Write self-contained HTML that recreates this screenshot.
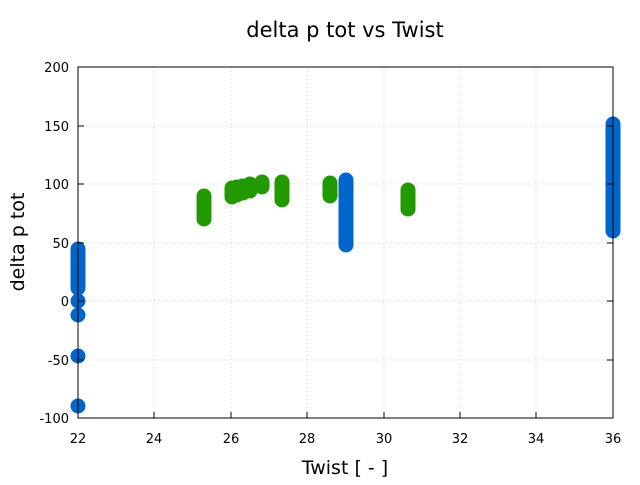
<!DOCTYPE html>
<html><head><style>body{margin:0;background:#fff}</style></head><body>
<svg width="640" height="480" xmlns="http://www.w3.org/2000/svg" font-family="DejaVu Sans, Liberation Sans, sans-serif">
<rect width="640" height="480" fill="#fff"/>
<g stroke="#ccc" stroke-dasharray="1,3" stroke-width="1">
<line x1="154" y1="67" x2="154" y2="418"/><line x1="231" y1="67" x2="231" y2="418"/><line x1="307" y1="67" x2="307" y2="418"/><line x1="384" y1="67" x2="384" y2="418"/><line x1="460" y1="67" x2="460" y2="418"/><line x1="536" y1="67" x2="536" y2="418"/>
<line x1="78" y1="126" x2="613" y2="126"/><line x1="78" y1="184" x2="613" y2="184"/><line x1="78" y1="243" x2="613" y2="243"/><line x1="78" y1="301" x2="613" y2="301"/><line x1="78" y1="360" x2="613" y2="360"/>
</g>
<g stroke-linecap="round" stroke-width="15" fill="none">
<g stroke="#229900">
<line x1="204" y1="196" x2="204" y2="219"/>
<line x1="232" y1="188" x2="232" y2="197"/><line x1="237" y1="187" x2="237" y2="195"/><line x1="243" y1="186" x2="243" y2="193"/>
<line x1="250" y1="184" x2="250" y2="191"/><line x1="262" y1="182" x2="262" y2="187"/>
<line x1="282" y1="182" x2="282" y2="200"/><line x1="330" y1="183" x2="330" y2="196"/><line x1="408" y1="190" x2="408" y2="209"/>
</g>
<g stroke="#0066cc">
<line x1="78" y1="249" x2="78" y2="288"/><line x1="78" y1="301" x2="78" y2="301"/><line x1="78" y1="315" x2="78" y2="315"/><line x1="78" y1="356" x2="78" y2="356"/><line x1="78" y1="406" x2="78" y2="406"/>
<line x1="346" y1="180" x2="346" y2="245"/>
<line x1="613" y1="124" x2="613" y2="231"/>
</g>
</g>
<rect x="78" y="67" width="535" height="351" fill="none" stroke="#000" stroke-width="1"/>
<g stroke="#000">
<line x1="154" y1="418" x2="154" y2="412"/><line x1="231" y1="418" x2="231" y2="412"/><line x1="307" y1="418" x2="307" y2="412"/><line x1="384" y1="418" x2="384" y2="412"/><line x1="460" y1="418" x2="460" y2="412"/><line x1="536" y1="418" x2="536" y2="412"/>
<line x1="78" y1="126" x2="84" y2="126"/><line x1="78" y1="184" x2="84" y2="184"/><line x1="78" y1="243" x2="84" y2="243"/><line x1="78" y1="301" x2="84" y2="301"/><line x1="78" y1="360" x2="84" y2="360"/>
<line x1="613" y1="126" x2="607" y2="126"/><line x1="613" y1="184" x2="607" y2="184"/><line x1="613" y1="243" x2="607" y2="243"/><line x1="613" y1="301" x2="607" y2="301"/><line x1="613" y1="360" x2="607" y2="360"/>
</g>
<g font-size="13" fill="#000" text-anchor="middle">
<text x="78" y="443">22</text><text x="154" y="443">24</text><text x="231" y="443">26</text><text x="307" y="443">28</text><text x="384" y="443">30</text><text x="460" y="443">32</text><text x="536" y="443">34</text><text x="613" y="443">36</text>
</g>
<g font-size="13" fill="#000" text-anchor="end">
<text x="69" y="72">200</text><text x="69" y="131">150</text><text x="69" y="189">100</text><text x="69" y="248">50</text><text x="69" y="306">0</text><text x="69" y="365">-50</text><text x="69" y="423">-100</text>
</g>
<text x="345" y="474" font-size="19" text-anchor="middle">Twist [ - ]</text>
<text transform="translate(24,242) rotate(-90)" font-size="19" text-anchor="middle">delta p tot</text>
<text x="345" y="37" font-size="21" text-anchor="middle">delta p tot vs Twist</text>
</svg>
</body></html>
